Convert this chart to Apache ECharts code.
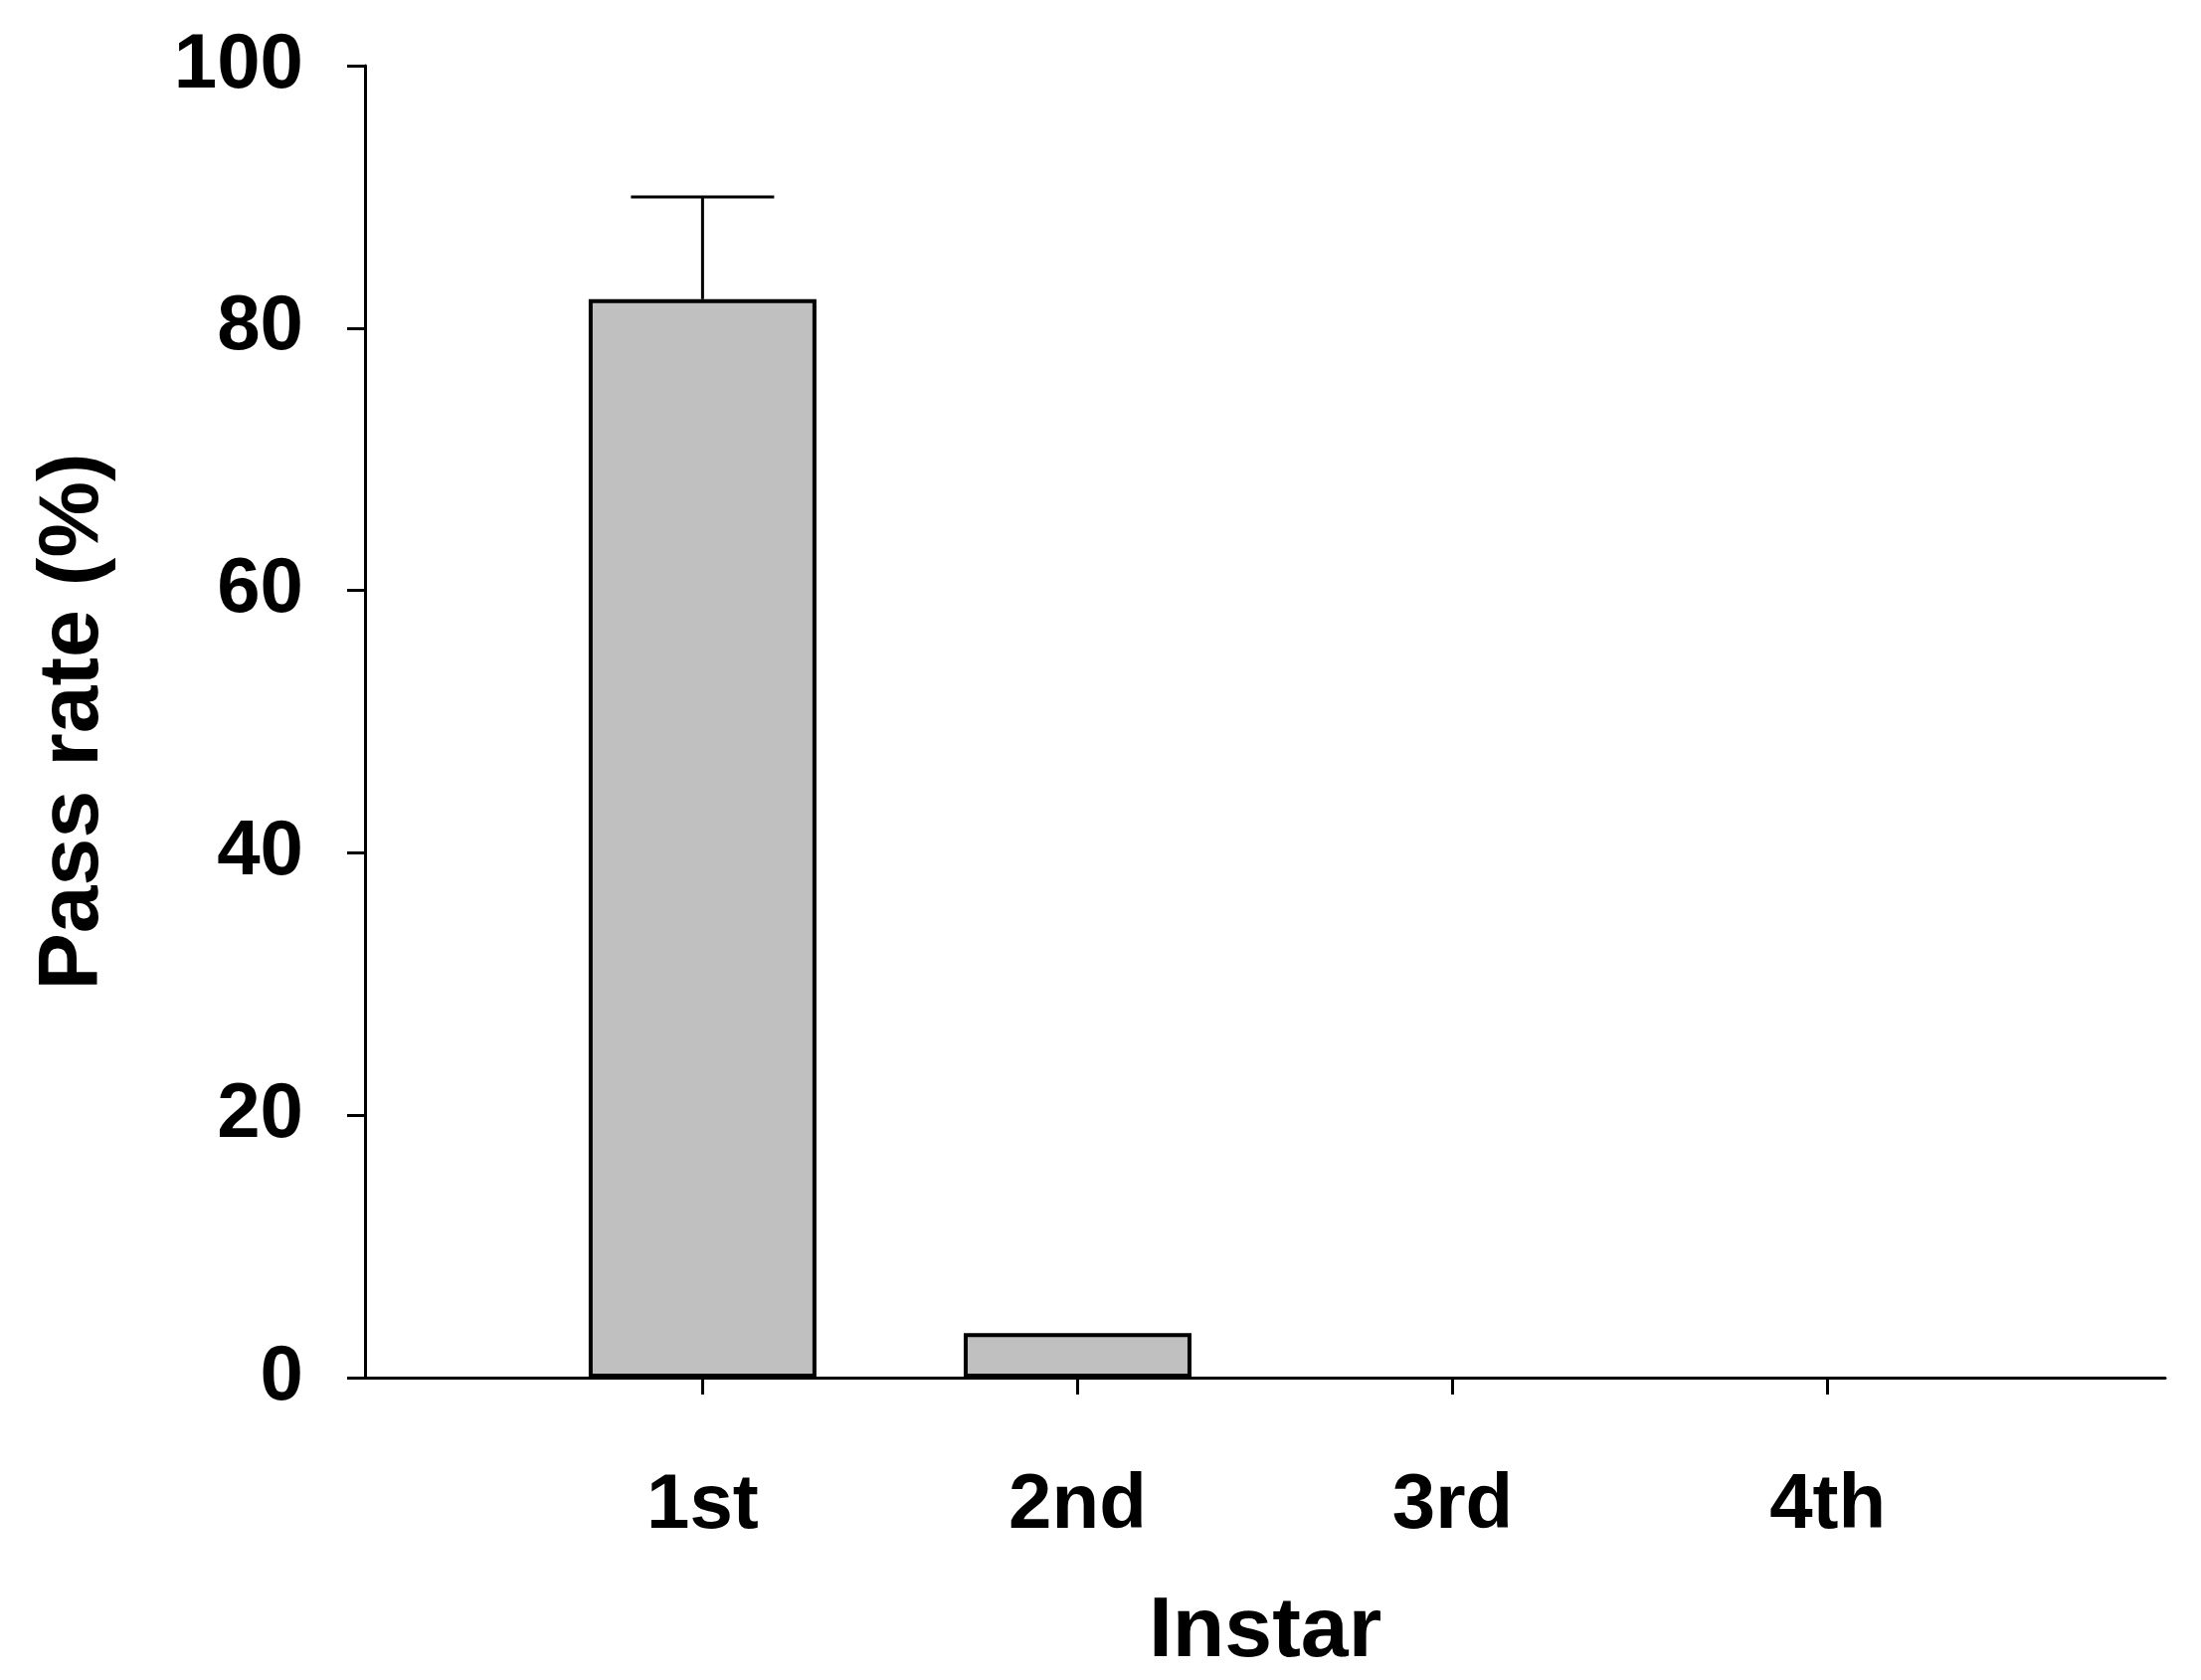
<!DOCTYPE html>
<html><head><meta charset="utf-8">
<script src="https://cdn.jsdelivr.net/npm/echarts@6/dist/echarts.min.js"></script>
<style>html,body{margin:0;padding:0;background:#fff}#c{width:2213px;height:1689px}</style>
</head><body><div id="c"></div>
<script>
const categories = ['1st','2nd','3rd','4th'];
const positions = [1,2,3,4];
const values = [82.2, 3.4, 0, 0];
const errors = [7.8, 0, 0, 0];
const yTicks = [0,20,40,60,80,100];

const F = 'Liberation Sans, Arial, sans-serif';
const chart = echarts.init(document.getElementById('c'));
chart.setOption({
  animation:false,
  backgroundColor:'#fff',
  grid:{left:367,right:36,top:66,bottom:296},
  xAxis:{type:'value',min:0.1,max:4.9,
    name:'Instar',nameLocation:'middle',nameGap:213,
    nameTextStyle:{fontFamily:F,fontWeight:'bold',fontSize:86,color:'#000'},
    axisLine:{lineStyle:{color:'#000',width:3}},
    axisTick:{customValues:positions,length:17,inside:false,lineStyle:{color:'#000',width:3}},
    axisLabel:{customValues:positions,margin:90,fontFamily:F,fontWeight:'bold',fontSize:78,color:'#000',
      formatter:v=>categories[Math.round(v)-1]||''},
    splitLine:{show:false}},
  yAxis:{type:'value',min:0,max:100,interval:20,
    name:'Pass rate (%)',nameLocation:'middle',nameGap:250,
    nameTextStyle:{fontFamily:F,fontWeight:'bold',fontSize:86,color:'#000'},
    axisLine:{show:true,lineStyle:{color:'#000',width:3}},
    axisTick:{show:true,length:18,lineStyle:{color:'#000',width:3}},
    axisLabel:{margin:62,fontFamily:F,fontWeight:'bold',fontSize:78,color:'#000'},
    splitLine:{show:false}},
  series:[
    {type:'bar',barWidth:229,data:positions.map((p,i)=>[p,values[i]>0?values[i]:null]),
     itemStyle:{color:'#c0c0c0',borderColor:'#000',borderWidth:4}},
    {type:'custom',data:positions.map((p,i)=>[p,values[i],values[i]+errors[i]]),z:1,
     renderItem:(params,api)=>{
       if(api.value(2)<=api.value(1)) return;
       const a=api.coord([api.value(0),api.value(1)]);
       const b=api.coord([api.value(0),api.value(2)]);
       const s={stroke:'#000',lineWidth:3};
       return {type:'group',children:[
         {type:'line',shape:{x1:a[0],y1:a[1],x2:b[0],y2:b[1]},style:s},
         {type:'line',shape:{x1:b[0]-72,y1:b[1],x2:b[0]+72,y2:b[1]},style:s}]};
     }}
  ]
});
</script></body></html>
